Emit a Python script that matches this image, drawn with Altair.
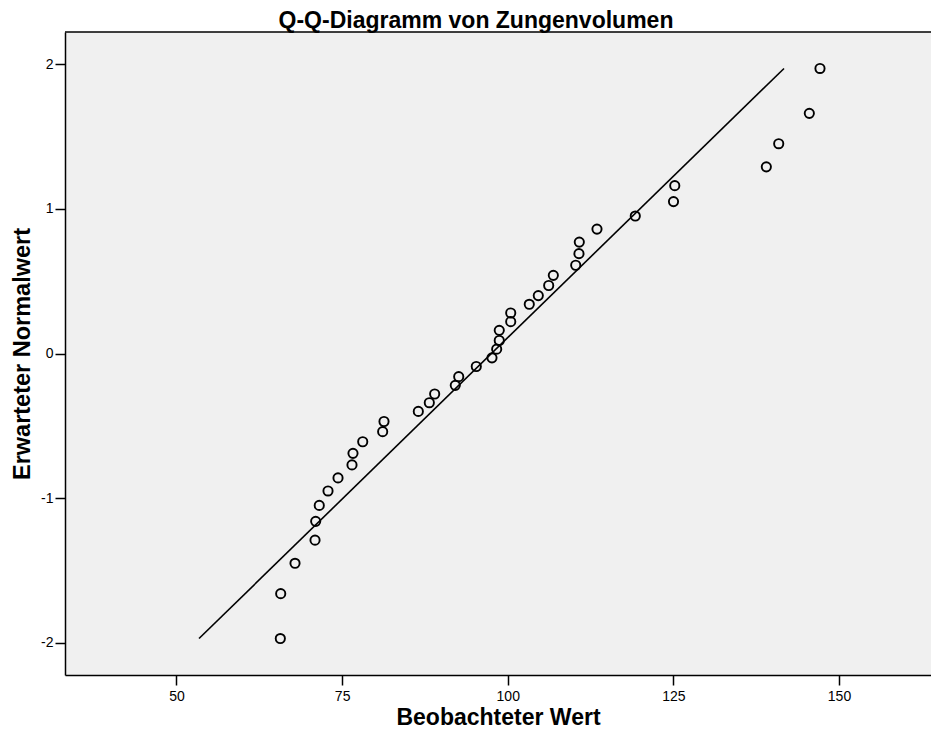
import altair as alt
import pandas as pd

title_text = "Q-Q-Diagramm von Zungenvolumen"
x_title = "Beobachteter Wert"
y_title = "Erwarteter Normalwert"

observed = [65.67, 65.73, 67.89, 70.91, 71.01, 71.55, 72.87, 74.38, 76.49, 76.64,
            78.11, 81.12, 81.32, 86.50, 88.16, 88.97, 92.08, 92.60, 95.25, 97.62,
            98.33, 98.72, 98.72, 100.45, 100.45, 103.25, 104.61, 106.18, 106.88, 110.26,
            110.75, 110.80, 113.47, 119.25, 125.02, 125.21, 139.03, 140.90, 145.52, 147.13]
expected = [-1.97, -1.66, -1.45, -1.29, -1.16, -1.05, -0.95, -0.86, -0.77, -0.69,
            -0.61, -0.54, -0.47, -0.40, -0.34, -0.28, -0.22, -0.16, -0.09, -0.03,
            0.03, 0.09, 0.16, 0.22, 0.28, 0.34, 0.40, 0.47, 0.54, 0.61,
            0.69, 0.77, 0.86, 0.95, 1.05, 1.16, 1.29, 1.45, 1.66, 1.97]
line_x = [53.4, 141.7]
line_y = [-1.97, 1.97]
x_ticks = [50, 75, 100, 125, 150]
y_ticks = [-2, -1, 0, 1, 2]

FONT = "Liberation Sans"
W, H = 866, 643

pts = pd.DataFrame({"obs": observed, "exp": expected})
ln = pd.DataFrame({"obs": line_x, "exp": line_y})

xs = alt.Scale(domain=[33.17, 33.17 + W / 6.625], nice=False, zero=False)
ys = alt.Scale(domain=[-2.222, 2.222], nice=False, zero=False)

xaxis = alt.Axis(values=x_ticks, title=x_title, grid=False, labelExpr="'' + datum.value",
                 tickSize=10, tickWidth=1.5, tickColor="black", domainColor="black", domainWidth=1.5,
                 labelFont=FONT, labelFontSize=14, labelColor="black", labelPadding=4,
                 titleFont=FONT, titleFontSize=23, titleFontWeight="bold", titleColor="black",
                 titlePadding=3)
yaxis = alt.Axis(values=y_ticks, title=y_title, grid=False, labelExpr="'' + datum.value",
                 tickSize=10, tickWidth=1.5, tickColor="black", domainColor="black", domainWidth=1.5,
                 labelFont=FONT, labelFontSize=14, labelColor="black", labelPadding=2,
                 titleFont=FONT, titleFontSize=23.5, titleFontWeight="bold", titleColor="black",
                 titlePadding=6)

points = alt.Chart(pts).mark_point(shape="circle", filled=False, color="black",
                                   size=85, strokeWidth=1.9, opacity=1).encode(
    x=alt.X("obs:Q", scale=xs, axis=xaxis),
    y=alt.Y("exp:Q", scale=ys, axis=yaxis),
)

line = alt.Chart(ln).mark_line(color="black", strokeWidth=1.6).encode(
    x=alt.X("obs:Q", scale=xs),
    y=alt.Y("exp:Q", scale=ys),
)

top_border = alt.Chart(pd.DataFrame({"a": [0]})).mark_rule(color="black", strokeWidth=1.5).encode(
    x=alt.value(0), x2=alt.value(W), y=alt.value(0)
)

title = alt.Chart(pd.DataFrame({"t": [title_text]})).mark_text(
    font=FONT, fontSize=23, fontWeight="bold", color="black", align="center", baseline="alphabetic"
).encode(text="t:N", x=alt.value(411), y=alt.value(-4))

chart = alt.layer(line, points, top_border, title).properties(
    width=W, height=H,
    autosize=alt.AutoSizeParams(type="none"),
    padding={"left": 57, "top": 24, "right": 0, "bottom": 53},
    background="white",
).configure_view(fill="#f0f0f0", strokeWidth=0, stroke="transparent")

chart.save("out.html", embed_options={"renderer": "svg", "actions": False})
